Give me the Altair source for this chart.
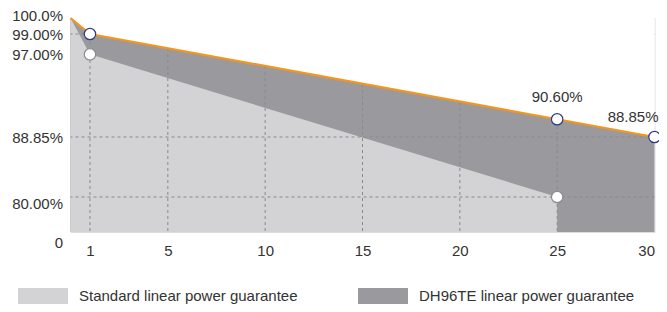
import altair as alt
import pandas as pd

# ---- data ----
series_names = ["Standard linear power guarantee", "DH96TE linear power guarantee"]
std_years = [0, 1, 25]
std_values = [100.0, 97.0, 80.0]
dh_years = [0, 1, 25, 30]
dh_values = [100.0, 99.0, 90.6, 88.85]
marker_std_years = [1, 25]
marker_std_values = [97.0, 80.0]
marker_dh_years = [1, 25, 30]
marker_dh_values = [99.0, 90.6, 88.85]
label_years = [25, 30]
label_values = [90.6, 88.85]
label_texts = ["90.60%", "88.85%"]
grid_x = [1, 5, 10, 15, 20, 25]
grid_y = [80.0, 88.85, 99.0]
x_ticks = [1, 5, 10, 15, 20, 25, 30]
y_ticks = [0, 80.0, 88.85, 97.0, 99.0, 100.0]

LIGHT = "#d3d3d5"
DARK = "#9a9a9e"
ORANGE = "#f5961c"
NAVY = "#2e3a86"
FONT = "Liberation Sans"
TXT = "#333333"

std_df = pd.DataFrame({"year": std_years, "value": std_values, "series": series_names[0]})
dh_df = pd.DataFrame({"year": dh_years, "value": dh_values, "series": series_names[1]})
mstd_df = pd.DataFrame({"year": marker_std_years, "value": marker_std_values})
mdh_df = pd.DataFrame({"year": marker_dh_years, "value": marker_dh_values})
lab_df = pd.DataFrame({"year": label_years, "value": label_values, "text": label_texts})
gx_df = pd.DataFrame({"year": grid_x})
gy_df = pd.DataFrame({"value": grid_y})

xscale = alt.Scale(domain=[0, 30], nice=False, zero=False)
yscale = alt.Scale(domain=[0, 80, 88.85, 99, 100], range=[214, 179, 119, 16, 0], nice=False, zero=False)

xaxis = alt.Axis(values=x_ticks, title=None, domain=False, ticks=False, grid=False,
                 labelFont=FONT, labelFontSize=15, labelColor=TXT, labelPadding=11)
yaxis = alt.Axis(values=y_ticks, title=None, domain=False, ticks=False, grid=False,
                 labelFont=FONT, labelFontSize=15, labelColor=TXT, labelPadding=8,
                 labelExpr="datum.value == 100 ? '100.0%' : datum.value == 0 ? '0' : format(datum.value, '.2f') + '%'",
                 labelOffset={"condition": [{"test": "datum.value == 80", "value": 6},
                                            {"test": "datum.value == 0", "value": 10},
                                            {"test": "datum.value == 100", "value": -3}],
                              "value": 0})

color = alt.Color("series:N", scale=alt.Scale(domain=series_names, range=[LIGHT, DARK]),
                  legend=alt.Legend(title=None, orient="none", legendX=-52.5, legendY=253,
                                    direction="horizontal", columns=2,
                                    symbolType="M-1,-0.32L1,-0.32L1,0.32L-1,0.32Z",
                                    symbolSize=2500, symbolStrokeWidth=0, symbolOpacity=1,
                                    labelFont=FONT, labelFontSize=15, labelColor=TXT,
                                    labelLimit=0, labelOffset=11, columnPadding=60))

dh_area = alt.Chart(dh_df).mark_area(opacity=1).encode(
    x=alt.X("year:Q", scale=xscale, axis=xaxis),
    y=alt.Y("value:Q", scale=yscale, axis=yaxis),
    y2=alt.datum(0),
    color=color,
)
std_area = alt.Chart(std_df).mark_area(opacity=1).encode(
    x="year:Q", y="value:Q", y2=alt.datum(0), color=color,
)
hgrid = alt.Chart(gy_df).mark_rule(color="#8a8a8a", strokeDash=[3, 3], strokeWidth=1).encode(y="value:Q")
vgrid = alt.Chart(gx_df).mark_rule(color="#8a8a8a", strokeDash=[3, 3], strokeWidth=1).encode(x="year:Q")
mask = alt.Chart(dh_df).mark_area(color="white", opacity=1).encode(
    x="year:Q", y="value:Q", y2=alt.datum(100),
)
line = alt.Chart(dh_df).mark_line(color=ORANGE, strokeWidth=2.2).encode(x="year:Q", y="value:Q")
pstd = alt.Chart(mstd_df).mark_point(shape="circle", filled=True, fill="white", stroke="#8c8c8c",
                                     strokeWidth=1.2, size=130, opacity=1).encode(x="year:Q", y="value:Q")
pdh = alt.Chart(mdh_df).mark_point(shape="circle", filled=True, fill="white", stroke=NAVY,
                                   strokeWidth=1.2, size=130, opacity=1).encode(x="year:Q", y="value:Q")
lab_mid = alt.Chart(lab_df).transform_filter("datum.year < 30").mark_text(
    font=FONT, fontSize=15, color=TXT, baseline="middle", dy=-22).encode(
    x="year:Q", y="value:Q", text="text:N")
lab_end = alt.Chart(lab_df).transform_filter("datum.year == 30").mark_text(
    font=FONT, fontSize=15, color=TXT, baseline="middle", align="right", dy=-20, dx=4).encode(
    x="year:Q", y="value:Q", text="text:N")

chart = alt.layer(dh_area, std_area, hgrid, vgrid, mask, line, pstd, pdh, lab_mid, lab_end).properties(
    width=584, height=214,
    autosize=alt.AutoSizeParams(type="none"),
    padding={"left": 62.5, "top": 10, "right": 4.5, "bottom": 72},
).configure_view(stroke=None).configure(background="white")

chart.save("out.html", embed_options={"renderer": "svg", "actions": False})
